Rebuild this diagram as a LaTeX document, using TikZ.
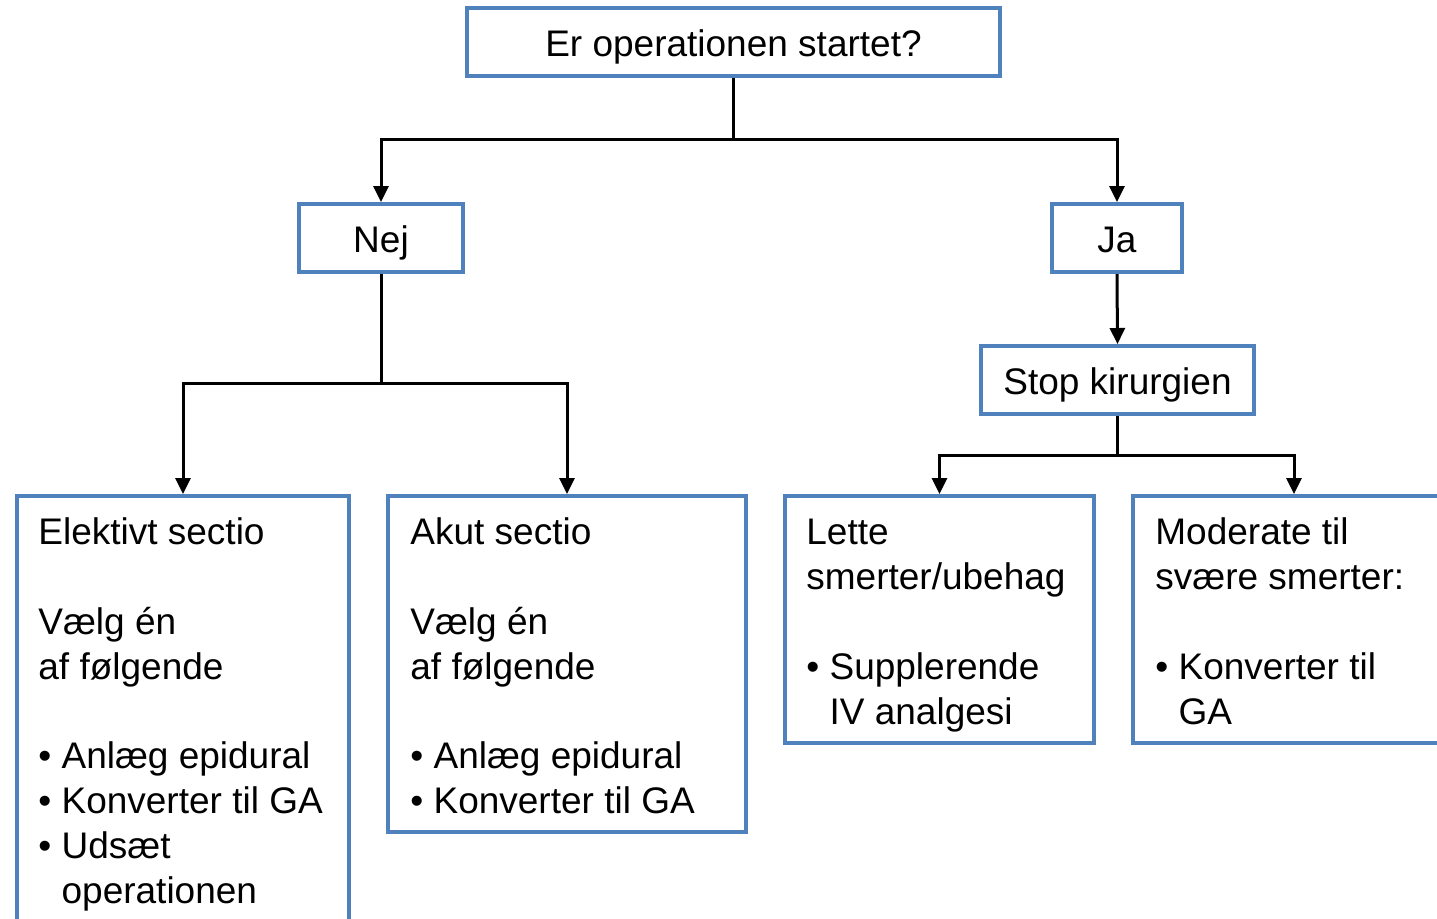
\documentclass[tikz,border=0pt]{standalone}
\usepackage{fontspec}
\setmainfont{Liberation Sans}
\usetikzlibrary{arrows.meta}
\definecolor{boxblue}{RGB}{79,129,189}
\tikzset{
  box/.style={draw=boxblue, line width=2pt, fill=white, inner sep=0pt, font=\fontsize{18.5}{22.5}\selectfont},
  onebox/.style={box, text height=14pt, text depth=0pt, minimum height=34pt},
  txt/.style={anchor=north west, inner sep=0pt, align=left, font=\fontsize{18.5}{22.5}\selectfont},
  conn/.style={draw=black, line width=1.5pt},
  arr/.style={conn, -{Triangle[length=8pt,width=7.5pt]}}
}
\newcommand{\bul}{\textbullet\ }
\newcommand{\bulsp}{\phantom{\textbullet\ }}
\newcommand{\fst}{\rule{0pt}{14pt}}
\begin{document}
\begin{tikzpicture}[x=0.5pt,y=-0.5pt]
\useasboundingbox (0,0) rectangle (1437,918);
\clip (0,0) rectangle (1437,918);
\fill[white] (0,0) rectangle (1437,918);
% boxes
\node[onebox, minimum width=266.5pt] (top) at (733.5,42) {Er operationen startet?};
\node[onebox, minimum width=82pt] (nej) at (381,238) {Nej};
\node[onebox, minimum width=65pt] (ja) at (1117,238) {Ja};
\node[onebox, minimum width=136.5pt] (stop) at (1117.5,380) {Stop kirurgien};
\node[box, minimum width=166pt, minimum height=232pt] (elek) at (183,728) {};
\node[box, minimum width=179pt, minimum height=168pt] (akut) at (567,664) {};
\node[box, minimum width=154.5pt, minimum height=123.5pt] (lette) at (939.5,619.5) {};
\node[box, minimum width=161pt, minimum height=123.5pt] (mod) at (1294,619.5) {};
% texts
\node[txt] (elekt) at (38,516) {\fst Elektivt sectio\\[22.5pt]Vælg én\\af følgende\\[22pt]\bul Anlæg epidural\\\bul Konverter til GA\\\bul Udsæt\\\bulsp operationen};
\node[txt] (akutt) at (410,516) {\fst Akut sectio\\[22.5pt]Vælg én\\af følgende\\[22pt]\bul Anlæg epidural\\\bul Konverter til GA};
\node[txt] (lettet) at (806,516) {\fst Lette\\smerter/ubehag\\[22.5pt]\bul Supplerende\\\bulsp IV analgesi};
\node[txt] (modt) at (1155,516) {\fst Moderate til\\svære smerter:\\[22.5pt]\bul Konverter til\\\bulsp GA};
% junctions
\coordinate (j1) at (733.5,139);
\coordinate (j2) at (381,383);
\coordinate (j3) at (1117.5,455);
% connectors
\draw[conn] (top.south) -- (j1);
\draw[arr] (j1) -| (nej.north);
\draw[arr] (j1) -| (ja.north);
\draw[arr] (ja.south) -- (stop.north);
\draw[conn] (nej.south) -- (j2);
\draw[arr] (j2) -| (elek.north);
\draw[arr] (j2) -| (akut.north);
\draw[conn] (stop.south) -- (j3);
\draw[arr] (j3) -| (lette.north);
\draw[arr] (j3) -| (mod.north);
\end{tikzpicture}
\end{document}
